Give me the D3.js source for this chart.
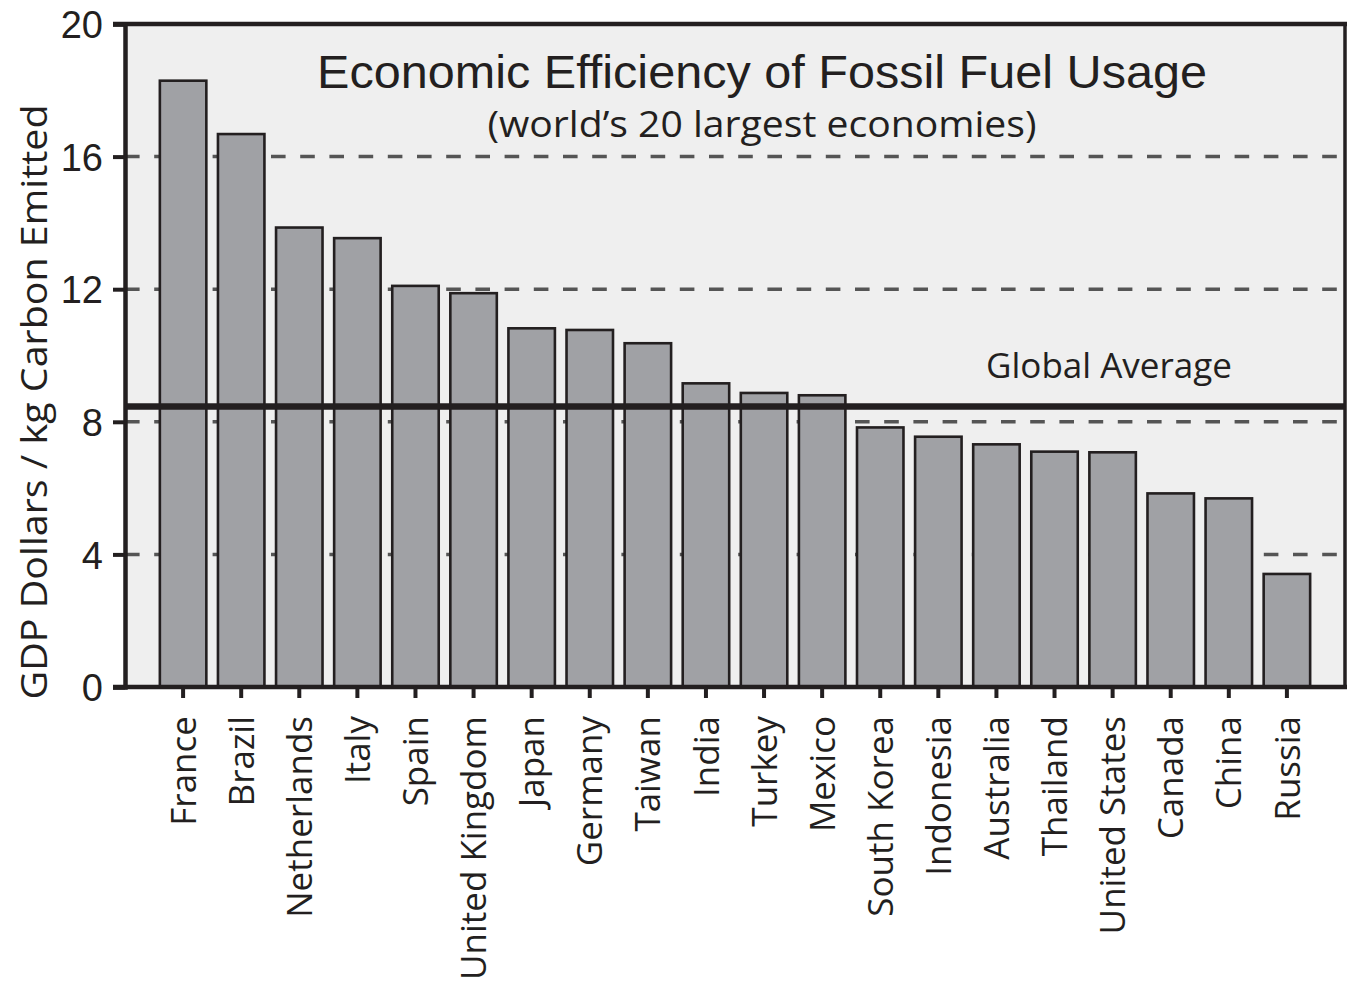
<!DOCTYPE html>
<html>
<head>
<meta charset="utf-8">
<script src="https://cdn.jsdelivr.net/npm/d3@7"></script>
<style>
html, body { margin: 0; padding: 0; background: #ffffff; }
svg { display: block; }
</style>
</head>
<body>
<svg id="chart" width="1348" height="991"></svg>
<script>
// ---- data ----
const countries = ["France", "Brazil", "Netherlands", "Italy", "Spain", "United Kingdom", "Japan", "Germany", "Taiwan", "India", "Turkey", "Mexico", "South Korea", "Indonesia", "Australia", "Thailand", "United States", "Canada", "China", "Russia"];
const values = [18.29, 16.68, 13.86, 13.54, 12.10, 11.88, 10.82, 10.77, 10.37, 9.16, 8.87, 8.80, 7.83, 7.55, 7.32, 7.10, 7.08, 5.84, 5.69, 3.41];
const globalAverage = 8.46;
const yTicks = [0, 4, 8, 12, 16, 20];
const gridValues = [4, 8, 12, 16];
const titleText = "Economic Efficiency of Fossil Fuel Usage";
const subtitleText = "(world\u2019s 20 largest economies)";
const yAxisTitle = "GDP Dollars / kg Carbon Emitted";
const averageLabel = "Global Average";

// ---- layout ----
const svg = d3.select("#chart");
const pLeft = 125, pRight = 1345, pTop = 24, pBottom = 687;
const ink = "#231f20";
const sansNarrow = "'Open Sans', 'Noto Sans', sans-serif";
const helv = "'Liberation Sans', Arial, Helvetica, sans-serif";

const x = d3.scaleBand().domain(countries).range([pLeft, pRight]).paddingInner(0.2).paddingOuter(0.6);
const y = d3.scaleLinear().domain([0, 20]).range([pBottom, pTop]);

// plot background
svg.append("rect")
  .attr("x", pLeft).attr("y", pTop)
  .attr("width", pRight - pLeft).attr("height", pBottom - pTop)
  .attr("fill", "#efefef");

// dashed gridlines (behind bars)
svg.append("g").selectAll("line").data(gridValues).join("line")
  .attr("x1", pLeft).attr("x2", pRight - 2)
  .attr("y1", d => y(d)).attr("y2", d => y(d))
  .attr("stroke", "#555555").attr("stroke-width", 3.5)
  .attr("stroke-dasharray", "14.6 14.6");

// bars
svg.append("g").selectAll("rect").data(countries).join("rect")
  .attr("x", d => x(d))
  .attr("y", (d, i) => y(values[i]))
  .attr("width", x.bandwidth())
  .attr("height", (d, i) => y(0) - y(values[i]))
  .attr("fill", "#a0a1a5")
  .attr("stroke", ink).attr("stroke-width", 2.6);

// global average line
svg.append("line")
  .attr("x1", pLeft).attr("x2", pRight)
  .attr("y1", y(globalAverage)).attr("y2", y(globalAverage))
  .attr("stroke", ink).attr("stroke-width", 6.5);

svg.append("text")
  .attr("x", 1109).attr("y", 378)
  .attr("text-anchor", "middle")
  .attr("font-family", sansNarrow).attr("font-size", 35)
  .attr("fill", ink)
  .attr("textLength", 246).attr("lengthAdjust", "spacingAndGlyphs")
  .text(averageLabel);

// frame (top and right)
svg.append("line").attr("x1", pLeft - 12).attr("x2", pRight + 2).attr("y1", pTop).attr("y2", pTop)
  .attr("stroke", ink).attr("stroke-width", 4.5);
svg.append("line").attr("x1", pRight).attr("x2", pRight).attr("y1", pTop).attr("y2", pBottom)
  .attr("stroke", ink).attr("stroke-width", 3.5);

// y axis
const yAxis = svg.append("g").attr("transform", `translate(${pLeft},0)`)
  .call(d3.axisLeft(y).tickValues(yTicks).tickSize(12).tickPadding(10).tickFormat(d3.format("d")));
yAxis.select(".domain").attr("stroke", ink).attr("stroke-width", 4.5);
yAxis.selectAll(".tick line").attr("stroke", ink).attr("stroke-width", 4);
yAxis.selectAll(".tick text")
  .attr("font-family", helv).attr("font-size", 38).attr("fill", ink)
  .attr("dy", "0.36em");

// x axis
const xAxis = svg.append("g").attr("transform", `translate(0,${pBottom})`)
  .call(d3.axisBottom(x).tickSize(11).tickPadding(0));
xAxis.select(".domain").attr("stroke", ink).attr("stroke-width", 4.5)
  .attr("d", `M${pLeft - 12},0H${pRight + 2}`);
xAxis.selectAll(".tick line").attr("stroke", ink).attr("stroke-width", 4);
xAxis.selectAll(".tick text")
  .attr("font-family", sansNarrow).attr("font-size", 35).attr("fill", ink)
  .attr("text-anchor", "end")
  .attr("transform", "translate(0,29) rotate(-90)")
  .attr("x", 0).attr("y", 0).attr("dy", "0.36em");

// y axis title
svg.append("text")
  .attr("transform", "translate(47,402) rotate(-90)")
  .attr("text-anchor", "middle")
  .attr("font-family", sansNarrow).attr("font-size", 36).attr("fill", ink)
  .attr("textLength", 595).attr("lengthAdjust", "spacingAndGlyphs")
  .text(yAxisTitle);

// titles
svg.append("text")
  .attr("x", 762).attr("y", 88).attr("text-anchor", "middle")
  .attr("font-family", helv).attr("font-size", 46).attr("fill", ink)
  .attr("textLength", 890).attr("lengthAdjust", "spacingAndGlyphs")
  .text(titleText);
svg.append("text")
  .attr("x", 762).attr("y", 137).attr("text-anchor", "middle")
  .attr("font-family", sansNarrow).attr("font-size", 36).attr("fill", ink)
  .attr("textLength", 549).attr("lengthAdjust", "spacingAndGlyphs")
  .text(subtitleText);
</script>
</body>
</html>
